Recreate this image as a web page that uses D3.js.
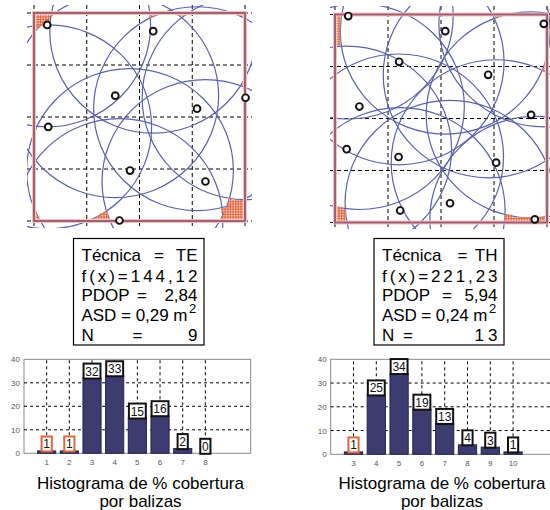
<!DOCTYPE html>
<html>
<head>
<meta charset="utf-8">
<script src="https://cdn.jsdelivr.net/npm/d3@7"></script>
<style>
  body { margin: 0; background: #fff; }
  svg { display: block; font-family: "Liberation Sans", Arial, sans-serif; }
</style>
</head>
<body>
<div id="chart"></div>
<script>
// beacon positions (grid units, 0..4)
const teX = [0.25, 2.26, 1.54, 4.01, 3.09, 0.27, 1.82, 3.25, 1.62];
const teY = [3.77, 3.65, 2.41, 2.37, 2.16, 1.81, 0.97, 0.76, 0.01];
const thX = [0.25, 3.94, 2.08, 1.21, 2.89, 0.46, 3.70, 0.22, 1.20, 3.04, 2.17, 1.23, 3.77];
const thY = [3.97, 3.82, 3.68, 3.09, 2.84, 2.23, 2.07, 1.41, 1.26, 1.15, 0.37, 0.23, 0.06];
const radius = [1.96, 1.98];     // coverage radius per technique
const redMax = [2, 3];           // coverage levels marked in red

// text boxes
const tecnica = ["TE", "TH"];
const fx = ["144,12", "221,23"];
const pdop = ["2,84", "5,94"];
const asd = ["0,29", "0,24"];
const nBeacons = ["9", "1 3"];

// histograms
const teBins = [1, 2, 3, 4, 5, 6, 7, 8];
const teCounts = [1, 1, 32, 33, 15, 16, 2, 0];
const thBins = [3, 4, 5, 6, 7, 8, 9, 10];
const thCounts = [1, 25, 34, 19, 13, 4, 3, 1];
const yTicks = [0, 10, 20, 30, 40];

const svg = d3.select("#chart").append("svg")
  .attr("width", 550)
  .attr("height", 510);

const defs = svg.append("defs");

// ---- coverage maps ----
const maps = [
  { px: teX, py: teY, xr: [34, 245], yr: [221, 13], clip: [27, 5, 252, 228] },
  { px: thX, py: thY, xr: [335, 547], yr: [222.5, 14.5], clip: [330, 6, 550, 229] }
];

maps.forEach((m, i) => {
  const x = d3.scaleLinear().domain([0, 4]).range(m.xr);
  const y = d3.scaleLinear().domain([0, 4]).range(m.yr);
  const R = radius[i];
  const pts = m.px.map((v, k) => ({ x: v, y: m.py[k] }));

  defs.append("clipPath").attr("id", "clip" + i)
    .append("rect")
      .attr("x", m.clip[0]).attr("y", m.clip[1])
      .attr("width", m.clip[2] - m.clip[0]).attr("height", m.clip[3] - m.clip[1]);

  const g = svg.append("g").attr("clip-path", `url(#clip${i})`);

  // dashed grid
  const ticks = [0, 1, 2, 3, 4];
  g.selectAll(".vg").data(ticks).join("line")
    .attr("x1", d => x(d)).attr("x2", d => x(d))
    .attr("y1", m.clip[1]).attr("y2", m.clip[3])
    .attr("stroke", "#000").attr("stroke-width", 1).attr("stroke-dasharray", "4,3");
  g.selectAll(".hg").data(ticks).join("line")
    .attr("y1", d => y(d)).attr("y2", d => y(d))
    .attr("x1", m.clip[0]).attr("x2", m.clip[2])
    .attr("stroke", "#000").attr("stroke-width", 1).attr("stroke-dasharray", "4,3");

  // coverage circles
  g.selectAll("ellipse").data(pts).join("ellipse")
    .attr("cx", d => x(d.x)).attr("cy", d => y(d.y))
    .attr("rx", x(R) - x(0)).attr("ry", y(0) - y(R))
    .attr("fill", "none").attr("stroke", "#5a62a8").attr("stroke-width", 1.2);

  // low-coverage samples
  const step = 0.05;
  const low = [];
  for (let sx = step / 2; sx < 4; sx += step) {
    for (let sy = step / 2; sy < 4; sy += step) {
      const c = pts.filter(p => Math.hypot(p.x - sx, p.y - sy) <= R).length;
      if (c <= redMax[i]) low.push({ x: sx, y: sy });
    }
  }
  const cw = x(step) - x(0), ch = y(0) - y(step);
  g.selectAll(".lowbg").data(low).join("rect")
    .attr("x", d => x(d.x) - cw / 2).attr("y", d => y(d.y) - ch / 2)
    .attr("width", cw).attr("height", ch)
    .attr("fill", "#f4bca6");
  g.selectAll(".lowmk").data(low).join("path")
    .attr("d", d => `M${x(d.x) - 1.3},${y(d.y)}h2.6M${x(d.x)},${y(d.y) - 1.3}v2.6`)
    .attr("stroke", "#e0643c").attr("stroke-width", 1);

  // frame
  const frame = [x(0), y(4), x(4) - x(0), y(0) - y(4)];
  [["#f2c4ba", 4], ["#a0607a", 2]].forEach(([c, w]) => {
    svg.append("rect")
      .attr("x", frame[0]).attr("y", frame[1])
      .attr("width", frame[2]).attr("height", frame[3])
      .attr("fill", "none").attr("stroke", c).attr("stroke-width", w);
  });

  // beacons
  svg.append("g").attr("clip-path", `url(#clip${i})`)
    .selectAll("circle").data(pts).join("circle")
      .attr("cx", d => x(d.x)).attr("cy", d => y(d.y)).attr("r", 3.4)
      .attr("fill", "#fff").attr("stroke", "#111").attr("stroke-width", 1.9);
});

// ---- info boxes ----
const boxes = [{ x0: 73.5, x1: 204 }, { x0: 374, x1: 504 }];
const rows = [260.7, 281.5, 301.3, 320.7, 340.8];

boxes.forEach((b, i) => {
  const g = svg.append("g").attr("font-size", 17).attr("fill", "#000");
  const L = b.x0 + 8, Rr = b.x1 - 6.5;
  g.append("rect")
    .attr("x", b.x0).attr("y", 238.5).attr("width", b.x1 - b.x0).attr("height", 106.5)
    .attr("fill", "#fff").attr("stroke", "#000").attr("stroke-width", 1.2);

  const t = (txt, xx, yy, anchor) => g.append("text")
    .attr("x", xx).attr("y", yy).attr("text-anchor", anchor || "start").text(txt);

  t("Técnica", L, rows[0]);
  t("=", b.x0 + (i ? 88.5 : 85.5), rows[0], "middle");
  t(tecnica[i], Rr, rows[0], "end");

  t("f(x)=" + fx[i], L, rows[1]).attr("textLength", Rr - L).attr("lengthAdjust", "spacing");

  t("PDOP", L, rows[2]);
  t("=", b.x0 + (i ? 73 : 68.5), rows[2], "middle");
  t(pdop[i], Rr, rows[2], "end");

  t("ASD = " + asd[i] + " m", L, rows[3]).attr("textLength", Rr - L - 10).attr("lengthAdjust", "spacing");
  t("2", Rr - 8.5, rows[3] - 7.5).attr("font-size", 13);

  t("N", L, rows[4]);
  t("=", b.x0 + (i ? 34 : 64), rows[4], "middle");
  const nt = t(nBeacons[i], Rr, rows[4], "end");
  if (nBeacons[i].length > 1) nt.attr("x", Rr - 23).attr("text-anchor", "start")
    .attr("textLength", 23).attr("lengthAdjust", "spacing");
});

// ---- histograms ----
const hists = [
  { bins: teBins, counts: teCounts, dom: [0, 10], xr: [24, 250.7], yr: [453.3, 359.3], cx: 140.5 },
  { bins: thBins, counts: thCounts, dom: [2, 12], xr: [330.7, 558.7], yr: [454.3, 359.3], cx: 442 }
];

hists.forEach((h, i) => {
  const x = d3.scaleLinear().domain(h.dom).range(h.xr);
  const y = d3.scaleLinear().domain([0, 40]).range(h.yr);
  const g = svg.append("g");
  const data = h.bins.map((b, k) => ({ b, v: h.counts[k] }));

  g.append("rect")
    .attr("x", h.xr[0]).attr("y", h.yr[1])
    .attr("width", h.xr[1] - h.xr[0]).attr("height", h.yr[0] - h.yr[1])
    .attr("fill", "#fff").attr("stroke", "#888").attr("stroke-width", 1);

  g.selectAll(".hy").data(yTicks.slice(1, -1)).join("line")
    .attr("x1", h.xr[0]).attr("x2", h.xr[1])
    .attr("y1", d => y(d)).attr("y2", d => y(d))
    .attr("stroke", "#000").attr("stroke-dasharray", "3,3");
  g.selectAll(".hx").data(h.bins).join("line")
    .attr("x1", d => x(d)).attr("x2", d => x(d))
    .attr("y1", h.yr[0]).attr("y2", h.yr[1])
    .attr("stroke", "#000").attr("stroke-dasharray", "3,3");

  const bw = x(0.8) - x(0);
  g.selectAll(".bar").data(data.filter(d => d.v > 0)).join("rect")
    .attr("x", d => x(d.b) - bw / 2).attr("y", d => y(d.v))
    .attr("width", bw).attr("height", d => y(0) - y(d.v))
    .attr("fill", "#3c3c70").attr("stroke", "#24244a").attr("stroke-width", 1);

  // axis labels
  g.selectAll(".yl").data(yTicks).join("text")
    .attr("x", h.xr[0] - 4).attr("y", d => y(d) + 3)
    .attr("text-anchor", "end").attr("font-size", 8).attr("fill", "#555")
    .text(d => d);
  g.selectAll(".xl").data(h.bins).join("text")
    .attr("x", d => x(d)).attr("y", h.yr[0] + 11.5)
    .attr("text-anchor", "middle").attr("font-size", 8).attr("fill", "#555")
    .text(d => d);

  // value labels
  const lab = g.selectAll(".lab").data(data).join("g")
    .attr("transform", d => `translate(${x(d.b)},${y(d.v) - 7})`);
  lab.append("rect")
    .attr("x", d => -(String(d.v).length * 6.7 + 3.5) / 2).attr("y", -7.5)
    .attr("width", d => String(d.v).length * 6.7 + 3.5).attr("height", 15)
    .attr("fill", "#fff")
    .attr("stroke", d => d.b <= redMax[i] ? "#e0663e" : "#111").attr("stroke-width", 2);
  lab.append("text")
    .attr("y", 4.5).attr("text-anchor", "middle").attr("font-size", 12).attr("fill", "#111")
    .text(d => d.v);

  // caption
  g.append("text").attr("x", h.cx).attr("y", 489)
    .attr("text-anchor", "middle").attr("font-size", 17).text("Histograma de % cobertura");
  g.append("text").attr("x", h.cx).attr("y", 506.5)
    .attr("text-anchor", "middle").attr("font-size", 17).text("por balizas");
});
</script>
</body>
</html>
